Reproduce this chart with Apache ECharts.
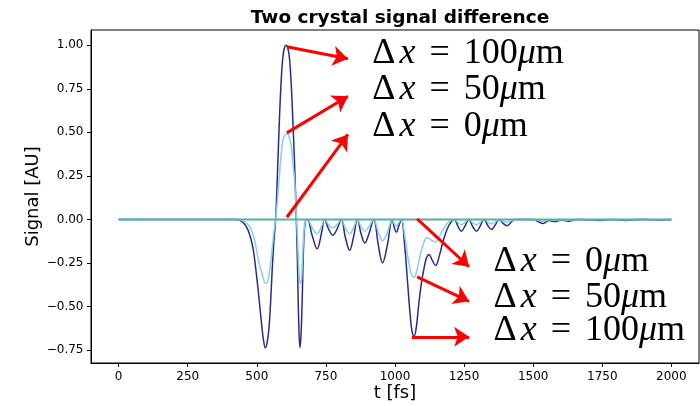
<!DOCTYPE html>
<html><head><meta charset="utf-8">
<script src="https://cdn.jsdelivr.net/npm/echarts@6/dist/echarts.min.js"></script>
<style>html,body{margin:0;padding:0;background:#fff}#c{width:700px;height:406px}</style>
</head><body><div id="c"></div>
<script>
// time axis [fs]
const timeFs = [0,200,400,425,445,461,474,486,496,504,516,524,531,538,544,550,556,562,568,575,582,588,594,600,606,612,618,624,630,637,643,647,651,656,660,664,670,676,683,
700,718,735,745,760,775,790,806,820,836,850,864,877,891,906,923,940,955,972,990,998,1005,1013,1023,1035,1045,1055,1062,1069,1077,1085,1095,1105,1114,1123,1135,1147,1160,1175,1190,1205,1215,
1228,1240,1254,1267,1281,1295,1309,1322,1336,1349,1363,1377,1391,1405,1418,1432,1500,1518,1536,1557,1579,1603,1627,1660,1742,1790,1833,1890,1960,2000];
// Δx = 100 µm
const dx100 = [0,0,0,0,-0.01,-0.038,-0.086,-0.163,-0.28,-0.392,-0.58,-0.69,-0.736,-0.70,-0.621,-0.47,-0.277,-0.12,0,0.28,0.583,0.79,0.928,0.985,1.0,0.985,0.928,0.79,0.583,0.30,0,-0.25,-0.55,-0.736,-0.66,-0.469,-0.12,-0.01,0,
-0.09,-0.168,-0.07,0,-0.055,-0.09,-0.055,0,-0.10,-0.176,-0.10,0,-0.08,-0.134,-0.08,0,-0.15,-0.249,-0.15,0,-0.05,-0.073,-0.04,0,-0.15,-0.35,-0.55,-0.645,-0.67,-0.62,-0.50,-0.37,-0.28,-0.22,-0.20,-0.235,-0.264,-0.21,-0.12,-0.05,-0.01,0,
-0.04,-0.067,-0.035,0,-0.04,-0.067,-0.035,0,-0.035,-0.057,-0.03,0,-0.022,-0.036,-0.02,0,0,-0.012,-0.023,-0.005,-0.012,-0.003,-0.01,0,-0.005,0,-0.005,0,-0.004,0];
// Δx = 50 µm
const dx50 = [0,0,0,0,-0.005,-0.02,-0.04,-0.085,-0.15,-0.22,-0.296,-0.34,-0.366,-0.36,-0.32,-0.25,-0.16,-0.07,0,0.12,0.258,0.37,0.449,0.48,0.49,0.49,0.47,0.43,0.33,0.22,0.02,-0.10,-0.26,-0.36,-0.365,-0.277,-0.08,-0.005,0,
-0.045,-0.082,-0.035,0,-0.03,-0.048,-0.03,0,-0.048,-0.082,-0.048,0,-0.04,-0.067,-0.04,0,-0.075,-0.122,-0.075,0,-0.025,-0.038,-0.02,0,-0.09,-0.2,-0.29,-0.322,-0.331,-0.305,-0.25,-0.18,-0.13,-0.105,-0.11,-0.122,-0.128,-0.10,-0.055,-0.02,-0.004,0,
-0.018,-0.03,-0.015,0,-0.018,-0.03,-0.015,0,-0.015,-0.025,-0.013,0,-0.01,-0.015,-0.008,0,0,-0.005,-0.01,-0.002,-0.005,-0.001,-0.004,0,-0.002,0,-0.002,0,-0.002,0];
// Δx = 0 µm
const timeFs0 = [0, 2000];
const dx0 = [0, 0];
const xTicks = [0,250,500,750,1000,1250,1500,1750,2000];
const yTicks = [-0.75,-0.5,-0.25,0,0.25,0.5,0.75,1.0];
const labelsTop = ['100','50','0'];
const labelsBottom = ['0','50','100'];

const pair = (xs, ys) => xs.map((x, i) => [x, ys[i]]);
const fmtY = v => v.toFixed(2).replace('-', '\u2212');
const serif = 'Liberation Serif';
const fs = 36;
const rich = {
  d: {fontFamily: serif, fontSize: fs, color: '#000', padding: [0, 4, 0, 0]},
  r: {fontFamily: serif, fontSize: fs, color: '#000'},
  i: {fontFamily: serif, fontSize: fs, fontStyle: 'italic', color: '#000'},
  e: {fontFamily: serif, fontSize: fs, color: '#000', padding: [0, 14, 0, 14]}
};
const lbl = n => '{d|\u0394}{i|x}{e|=}{r|' + n + '}{i|\u03bc}{r|m}';

const arrows = [
  [[608.7, 0.991], [829.7, 0.922]],
  [[608.7, 0.497], [829.7, 0.707]],
  [[608.7, 0.013], [829.7, 0.488]],
  [[1080, 0.004], [1268, -0.271]],
  [[1080, -0.329], [1268, -0.469]],
  [[1061, -0.673], [1268, -0.673]]
];
const textTopY = [0.954, 0.748, 0.532];
const textBotY = [-0.241, -0.448, -0.639];

const chart = echarts.init(document.getElementById('c'), null, {renderer: 'canvas'});
const axisText = {fontFamily: 'DejaVu Sans', fontSize: 12, color: '#000'};
chart.setOption({
  animation: false,
  backgroundColor: '#fff',
  title: {text: 'Two crystal signal difference', left: 395, textAlign: 'center', top: 4,
    textStyle: {fontFamily: 'DejaVu Sans', fontWeight: 'bold', fontSize: 18.5, color: '#000'}},
  grid: {left: 91, right: 1, top: 30, bottom: 43, show: true, borderColor: '#000', borderWidth: 1,
    containLabel: false, outerBoundsMode: 'none'},
  xAxis: {type: 'value', min: -100, max: 2100,
    name: 't [fs]', nameLocation: 'middle', nameGap: 21, nameMoveOverlap: false,
    nameTextStyle: {fontFamily: 'DejaVu Sans', fontSize: 18, color: '#000'},
    axisLine: {show: true, onZero: false, lineStyle: {color: '#000', width: 1}}, splitLine: {show: false},
    axisTick: {show: true, inside: false, length: 4, lineStyle: {color: '#000', width: 1}, customValues: xTicks},
    axisLabel: Object.assign({customValues: xTicks, margin: 8, formatter: v => String(v)}, axisText)},
  yAxis: {type: 'value', min: -0.823, max: 1.087,
    name: 'Signal [AU]', nameLocation: 'middle', nameGap: 49, nameRotate: 90, nameMoveOverlap: false,
    nameTextStyle: {fontFamily: 'DejaVu Sans', fontSize: 18, color: '#000'},
    axisLine: {show: true, onZero: false, lineStyle: {color: '#000', width: 1}}, splitLine: {show: false},
    axisTick: {show: true, inside: false, length: 4, lineStyle: {color: '#000', width: 1}, customValues: yTicks},
    axisLabel: Object.assign({customValues: yTicks, margin: 7.5, formatter: fmtY}, axisText)},
  series: [
    {name: 'dx100', type: 'line', data: pair(timeFs, dx100), showSymbol: false, smooth: 0.4,
      lineStyle: {color: '#2b2a88', width: 1.5}, z: 2},
    {name: 'dx50', type: 'line', data: pair(timeFs, dx50), showSymbol: false, smooth: 0.4,
      lineStyle: {color: '#87ceeb', width: 1.5}, z: 3},
    {name: 'dx0', type: 'line', data: pair(timeFs0, dx0), showSymbol: false,
      lineStyle: {color: '#5aaea6', width: 2}, z: 4},
    {name: 'ann', type: 'line', data: [], z: 5,
      markLine: {silent: true, symbol: ['none', 'arrow'], symbolSize: 15, animation: false,
        label: {show: false}, lineStyle: {color: '#ff0000', width: 3, type: 'solid'},
        data: arrows.map(a => [{coord: a[0]}, {coord: a[1]}])},
      markPoint: {silent: true, symbol: 'circle', symbolSize: 1, itemStyle: {color: 'rgba(0,0,0,0)'},
        label: {show: true, position: 'right', distance: 0, rich: rich, formatter: p => lbl(p.name)},
        data: labelsTop.map((n, i) => ({name: n, coord: [916, textTopY[i]]}))
          .concat(labelsBottom.map((n, i) => ({name: n, coord: [1355, textBotY[i]]})))}
    }
  ]
});
</script></body></html>
